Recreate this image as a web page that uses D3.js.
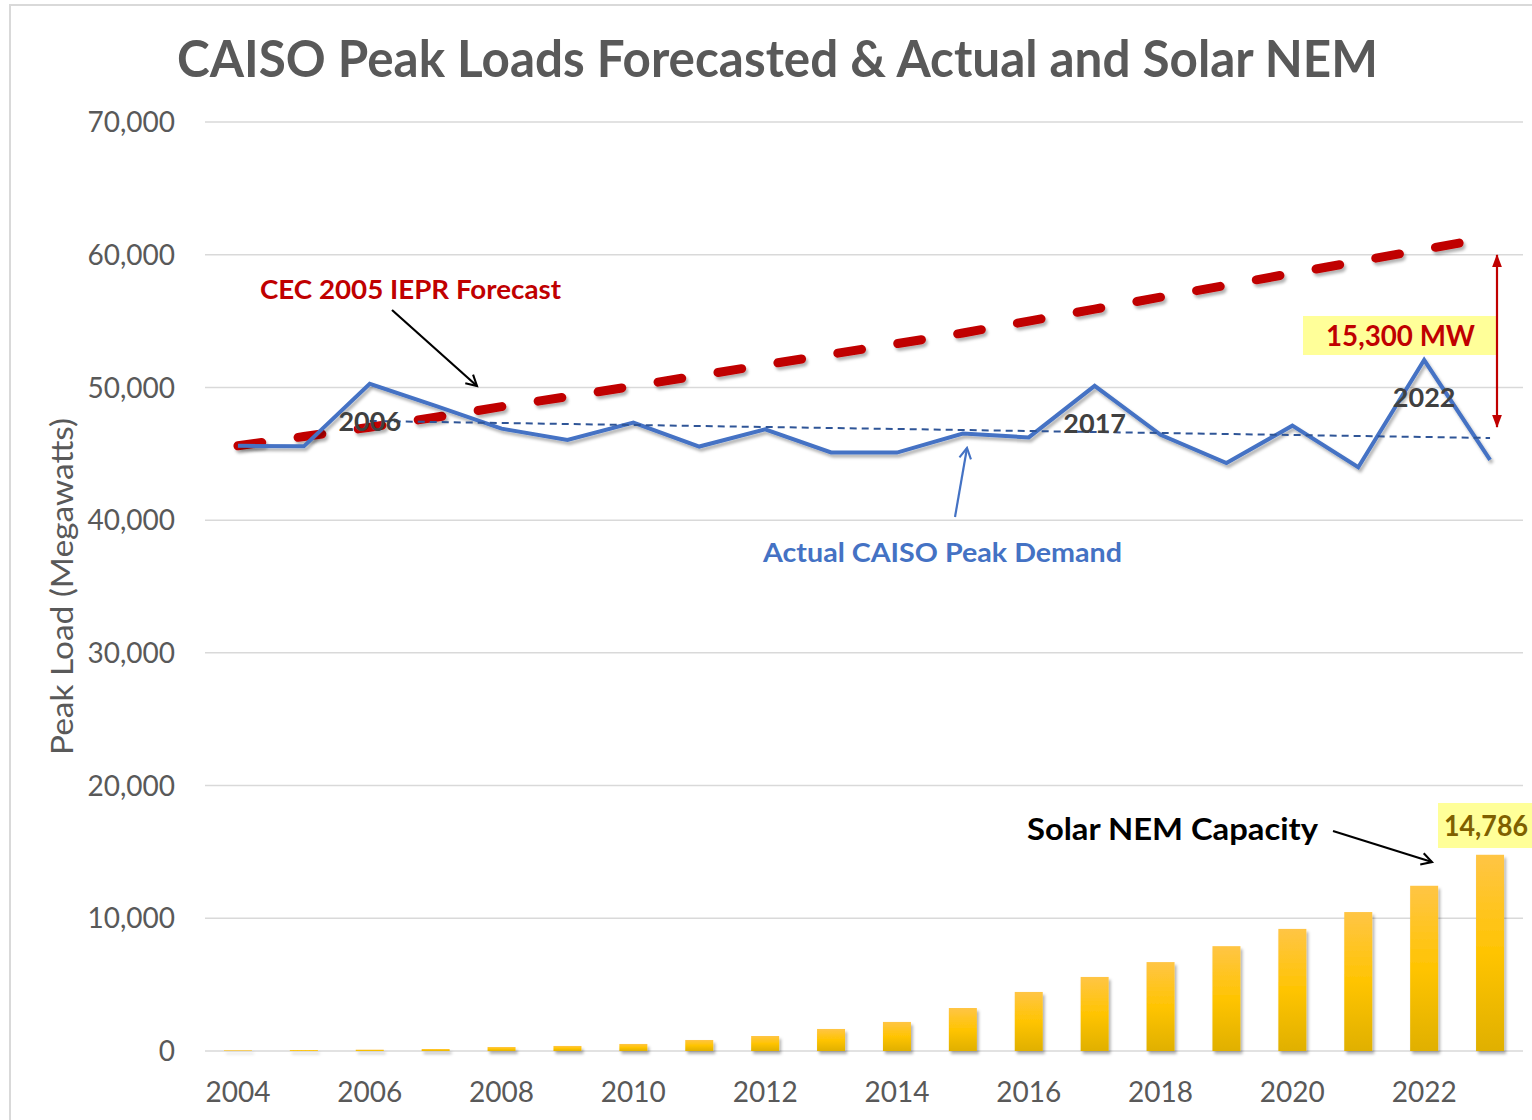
<!DOCTYPE html>
<html><head><meta charset="utf-8">
<script src="https://cdn.jsdelivr.net/npm/d3@7"></script>
<style>
html,body{margin:0;padding:0;background:#fff;}
svg{display:block;font-family:Lato,"Open Sans",sans-serif;}
</style></head>
<body>
<svg id="chart" width="1532" height="1120"></svg>
<script>
// ---------- DATA ----------
const years = [2004,2005,2006,2007,2008,2009,2010,2011,2012,2013,2014,2015,2016,2017,2018,2019,2020,2021,2022,2023];
const actualPeak = [45597,45562,50270,48615,46897,46042,47350,45545,46846,45097,45090,46519,46232,50116,46427,44301,47121,43982,52061,44534];
const forecastPeak = [45600,46300,47000,47750,48550,49300,50100,50900,51700,52500,53300,54100,55000,55900,56800,57700,58600,59500,60400,61300];
const solarNEM = [50,70,100,150,300,380,530,830,1130,1660,2190,3240,4450,5580,6700,7900,9200,10470,12450,14786];
const trendYears = [2006,2023];
const trendValues = [47470,46190];
const yTicks = [0,10000,20000,30000,40000,50000,60000,70000];
const xTickYears = [2004,2006,2008,2010,2012,2014,2016,2018,2020,2022];
const labelYears = [2006,2017,2022];

const svg = d3.select('#chart');
const defs = svg.append('defs');

const x = d3.scaleBand().domain(years).range([205,1523]).padding(0);
const cx = yr => x(yr) + x.bandwidth()/2;
const y = d3.scaleLinear().domain([0,70000]).range([1051,122]);
const fmt = d3.format(',');

// filters & gradients
const sh = defs.append('filter').attr('id','shadow').attr('x','-10%').attr('y','-10%').attr('width','130%').attr('height','140%');
sh.append('feDropShadow').attr('dx',2).attr('dy',3).attr('stdDeviation',1.8).attr('flood-color','#000').attr('flood-opacity',0.3);
const g1 = defs.append('linearGradient').attr('id','gold').attr('x1',0).attr('y1',0).attr('x2',0).attr('y2',1);
g1.append('stop').attr('offset','0%').attr('stop-color','#ffc545');
g1.append('stop').attr('offset','50%').attr('stop-color','#ffc402');
g1.append('stop').attr('offset','100%').attr('stop-color','#e0b000');

function arrowMarker(id,color,filled){
  const m = defs.append('marker').attr('id',id).attr('viewBox','0 0 12 12')
    .attr('refX', filled?11:10).attr('refY',6).attr('markerWidth',filled?13:14).attr('markerHeight',filled?13:14)
    .attr('markerUnits','userSpaceOnUse').attr('orient','auto-start-reverse');
  if(filled) m.append('path').attr('d','M0,1.5 L12,6 L0,10.5 Z').attr('fill',color);
  else m.append('path').attr('d','M1,1 L10,6 L1,11').attr('fill','none').attr('stroke',color).attr('stroke-width',1.8).attr('stroke-linejoin','miter');
}
arrowMarker('arrBlack','#000',false);
arrowMarker('arrBlue','#4472c4',false);
arrowMarker('arrRed','#c00000',true);

// border
svg.append('rect').attr('x',10).attr('y',5).attr('width',1540).attr('height',1140)
  .attr('fill','none').attr('stroke','#d9d9d9').attr('stroke-width',2);

// title
function fitText(sel,w){ return sel.attr('textLength',w).attr('lengthAdjust','spacingAndGlyphs'); }
fitText(svg.append('text').attr('x',177).attr('y',77).attr('font-size',52).attr('font-weight',700)
  .attr('fill','#595959').text('CAISO Peak Loads Forecasted & Actual and Solar NEM'),1201);

// gridlines
svg.append('g').selectAll('line').data(yTicks).join('line')
  .attr('x1',205).attr('x2',1523).attr('y1',d=>y(d)).attr('y2',d=>y(d))
  .attr('stroke','#d9d9d9').attr('stroke-width',1.5);

// y tick labels
svg.append('g').selectAll('text').data(yTicks).join('text')
  .attr('x',175).attr('y',d=>y(d)).attr('dy','0.36em').attr('text-anchor','end')
  .attr('font-size',28).attr('fill','#595959').text(d=>fmt(d));

// x tick labels
svg.append('g').selectAll('text').data(xTickYears).join('text')
  .attr('x',d=>cx(d)).attr('y',1092).attr('dy','0.36em').attr('text-anchor','middle')
  .attr('font-size',28).attr('fill','#595959').text(d=>d);

// y axis title
fitText(svg.append('text').attr('transform','translate(73,755) rotate(-90)').attr('text-anchor','start')
  .attr('font-size',30).attr('fill','#595959').text('Peak Load (Megawatts)'),337);

// bars
svg.append('g').attr('filter','url(#shadow)').selectAll('rect').data(years).join('rect')
  .attr('x',d=>cx(d)-14).attr('width',28)
  .attr('y',(d,i)=>y(solarNEM[i])).attr('height',(d,i)=>y(0)-y(solarNEM[i]))
  .attr('fill','url(#gold)');

// forecast dashed line
const line = d3.line().x(d=>cx(d[0])).y(d=>y(d[1]));
svg.append('path').datum(years.map((yr,i)=>[yr,forecastPeak[i]])).attr('d',line)
  .attr('fill','none').attr('stroke','#c00000').attr('stroke-width',9)
  .attr('stroke-linecap','round').attr('stroke-dasharray','24 36.7').attr('filter','url(#shadow)');

// actual line
svg.append('path').datum(years.map((yr,i)=>[yr,actualPeak[i]])).attr('d',line)
  .attr('fill','none').attr('stroke','#4472c4').attr('stroke-width',4)
  .attr('stroke-linejoin','miter').attr('filter','url(#shadow)');

// trend line
svg.append('path').datum(trendYears.map((yr,i)=>[yr,trendValues[i]])).attr('d',line)
  .attr('fill','none').attr('stroke','#2f5597').attr('stroke-width',2).attr('stroke-dasharray','7 5');

// year labels on the line
const labelY = {2006:421,2017:423,2022:397};
svg.append('g').selectAll('text').data(labelYears).join('text')
  .attr('x',d=>cx(d)).attr('y',d=>labelY[d]).attr('dy','0.36em').attr('text-anchor','middle')
  .attr('font-size',27).attr('font-weight',700).attr('fill','#404040').text(d=>d);

// CEC label + arrow
fitText(svg.append('text').attr('x',260).attr('y',299).attr('font-size',26).attr('font-weight',700)
  .attr('fill','#c00000').text('CEC 2005 IEPR Forecast'),301);
svg.append('line').attr('x1',392).attr('y1',310).attr('x2',477).attr('y2',386)
  .attr('stroke','#000').attr('stroke-width',2.2).attr('marker-end','url(#arrBlack)');

// Actual label + arrow
fitText(svg.append('text').attr('x',763).attr('y',562).attr('font-size',26).attr('font-weight',700)
  .attr('fill','#4472c4').text('Actual CAISO Peak Demand'),359);
svg.append('line').attr('x1',955).attr('y1',517).attr('x2',967).attr('y2',448)
  .attr('stroke','#4472c4').attr('stroke-width',2.2).attr('marker-end','url(#arrBlue)');

// 15,300 MW box
svg.append('rect').attr('x',1303).attr('y',316).attr('width',193).attr('height',39).attr('fill','#ffff99');
fitText(svg.append('text').attr('x',1326).attr('y',346).attr('font-size',29).attr('font-weight',700)
  .attr('fill','#c00000').text('15,300 MW'),149);
// red double arrow
svg.append('line').attr('x1',1497).attr('y1',255).attr('x2',1497).attr('y2',427)
  .attr('stroke','#c00000').attr('stroke-width',2.2)
  .attr('marker-start','url(#arrRed)').attr('marker-end','url(#arrRed)');

// Solar label + arrow
fitText(svg.append('text').attr('x',1027).attr('y',840).attr('font-size',31).attr('font-weight',700)
  .attr('fill','#000').text('Solar NEM Capacity'),291);
svg.append('line').attr('x1',1333).attr('y1',831).attr('x2',1432).attr('y2',862)
  .attr('stroke','#000').attr('stroke-width',2.2).attr('marker-end','url(#arrBlack)');

// 14,786 box (runs to the right edge, text kept fully visible)
svg.append('rect').attr('x',1438).attr('y',803).attr('width',100).attr('height',45).attr('fill','#ffff99');
fitText(svg.append('text').attr('x',1444).attr('y',836).attr('font-size',28).attr('font-weight',700)
  .attr('fill','#7f6000').text(fmt(solarNEM[solarNEM.length-1])),84);
</script>
</body></html>
